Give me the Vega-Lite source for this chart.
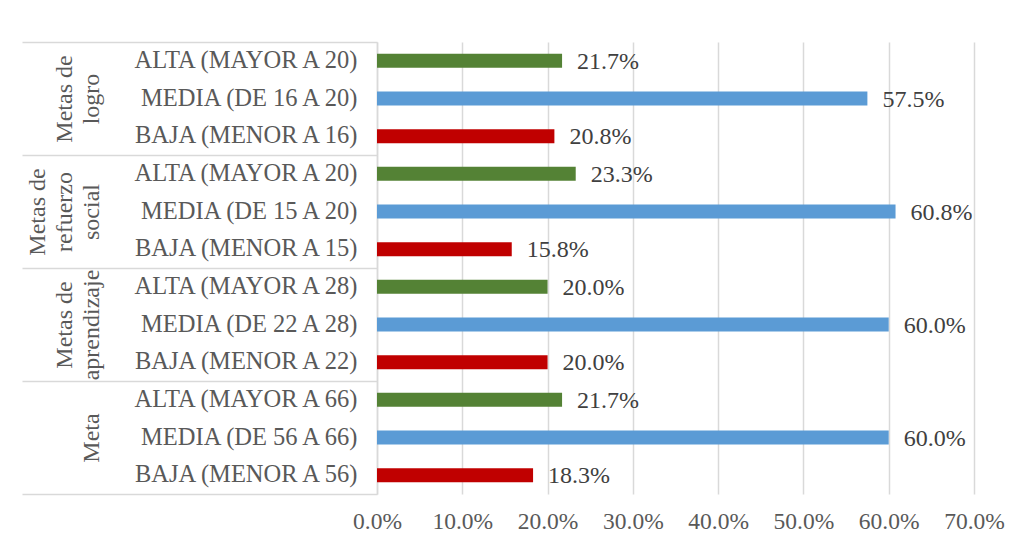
{
  "$schema": "https://vega.github.io/schema/vega-lite/v6.json",
  "width": 597,
  "height": 452,
  "autosize": "none",
  "padding": {"left": 377, "top": 42, "right": 44, "bottom": 53},
  "background": "white",
  "config": {"view": {"stroke": null}, "font": "Liberation Serif"},
  "data": {
    "values": [
      {"grupo": "Metas de logro", "fila": "logro|ALTA (MAYOR A 20)", "nivel": "ALTA", "valor": 0.217},
      {"grupo": "Metas de logro", "fila": "logro|MEDIA (DE 16 A 20)", "nivel": "MEDIA", "valor": 0.575},
      {"grupo": "Metas de logro", "fila": "logro|BAJA (MENOR A 16)", "nivel": "BAJA", "valor": 0.208},
      {"grupo": "Metas de refuerzo social", "fila": "social|ALTA (MAYOR A 20)", "nivel": "ALTA", "valor": 0.233},
      {"grupo": "Metas de refuerzo social", "fila": "social|MEDIA (DE 15 A 20)", "nivel": "MEDIA", "valor": 0.608},
      {"grupo": "Metas de refuerzo social", "fila": "social|BAJA (MENOR A 15)", "nivel": "BAJA", "valor": 0.158},
      {"grupo": "Metas de aprendizaje", "fila": "aprendizaje|ALTA (MAYOR A 28)", "nivel": "ALTA", "valor": 0.200},
      {"grupo": "Metas de aprendizaje", "fila": "aprendizaje|MEDIA (DE 22 A 28)", "nivel": "MEDIA", "valor": 0.600},
      {"grupo": "Metas de aprendizaje", "fila": "aprendizaje|BAJA (MENOR A 22)", "nivel": "BAJA", "valor": 0.200},
      {"grupo": "Meta", "fila": "meta|ALTA (MAYOR A 66)", "nivel": "ALTA", "valor": 0.217},
      {"grupo": "Meta", "fila": "meta|MEDIA (DE 56 A 66)", "nivel": "MEDIA", "valor": 0.600},
      {"grupo": "Meta", "fila": "meta|BAJA (MENOR A 56)", "nivel": "BAJA", "valor": 0.183}
    ]
  },
  "layer": [
    {
      "encoding": {
        "y": {
          "field": "fila",
          "type": "nominal",
          "sort": null,
          "scale": {
            "domain": [
              "logro|ALTA (MAYOR A 20)", "logro|MEDIA (DE 16 A 20)", "logro|BAJA (MENOR A 16)",
              "social|ALTA (MAYOR A 20)", "social|MEDIA (DE 15 A 20)", "social|BAJA (MENOR A 15)",
              "aprendizaje|ALTA (MAYOR A 28)", "aprendizaje|MEDIA (DE 22 A 28)", "aprendizaje|BAJA (MENOR A 22)",
              "meta|ALTA (MAYOR A 66)", "meta|MEDIA (DE 56 A 66)", "meta|BAJA (MENOR A 56)"
            ],
            "paddingInner": 0.63,
            "paddingOuter": 0.315
          },
          "axis": {
            "orient": "left",
            "title": null,
            "ticks": false,
            "domain": true,
            "domainColor": "#d9d9d9",
            "domainWidth": 1.5,
            "labelPadding": 20,
            "labelExpr": "split(datum.label, '|')[1]",
            "labelFont": "Liberation Serif",
            "labelFontSize": 24.5,
            "labelColor": "#595959",
            "labelLimit": 400
          }
        },
        "x": {
          "field": "valor",
          "type": "quantitative",
          "scale": {"domain": [0, 0.7], "nice": false},
          "axis": {
            "title": null,
            "format": ".1%",
            "values": [0, 0.1, 0.2, 0.3, 0.4, 0.5, 0.6, 0.7],
            "labelOverlap": false,
            "labelFlush": false,
            "grid": true,
            "gridColor": "#d9d9d9",
            "gridWidth": 1.5,
            "domain": false,
            "ticks": false,
            "labelPadding": 15,
            "labelFont": "Liberation Serif",
            "labelFontSize": 23.5,
            "labelColor": "#595959"
          }
        }
      },
      "layer": [
        {
          "mark": {"type": "bar"},
          "encoding": {
            "color": {
              "field": "nivel",
              "type": "nominal",
              "scale": {"domain": ["ALTA", "MEDIA", "BAJA"], "range": ["#548235", "#5b9bd5", "#c00000"]},
              "legend": null
            }
          }
        },
        {
          "mark": {"type": "text", "align": "left", "baseline": "middle", "dx": 15, "dy": 1, "font": "Liberation Serif", "fontSize": 24, "color": "#404040"},
          "encoding": {
            "text": {"field": "valor", "type": "quantitative", "format": ".1%"}
          }
        }
      ]
    },
    {
      "mark": {"type": "text"},
      "encoding": {
        "y": {
          "field": "grupo",
          "type": "nominal",
          "sort": null,
          "scale": {
            "domain": ["Metas de logro", "Metas de refuerzo social", "Metas de aprendizaje", "Meta"],
            "paddingInner": 0,
            "paddingOuter": 0
          },
          "axis": {
            "orient": "left",
            "title": null,
            "domain": false,
            "tickBand": "extent",
            "tickSize": 355,
            "tickColor": "#d9d9d9",
            "tickWidth": 1.5,
            "labelAngle": -90,
            "labelAlign": "center",
            "labelBaseline": "bottom",
            "labelPadding": {
              "condition": [
                {"test": "datum.value == 'Meta'", "value": -81},
                {"test": "datum.value == 'Metas de refuerzo social'", "value": -27}
              ],
              "value": -54
            },
            "labelLineHeight": 27,
            "labelExpr": "datum.label == 'Metas de logro' ? ['Metas de', 'logro'] : datum.label == 'Metas de refuerzo social' ? ['Metas de', 'refuerzo', 'social'] : datum.label == 'Metas de aprendizaje' ? ['Metas de', 'aprendizaje'] : datum.label",
            "labelFont": "Liberation Serif",
            "labelFontSize": 24,
            "labelColor": "#595959",
            "labelLimit": 300
          }
        },
        "text": {"value": ""}
      }
    }
  ],
  "resolve": {"scale": {"y": "independent"}}
}
